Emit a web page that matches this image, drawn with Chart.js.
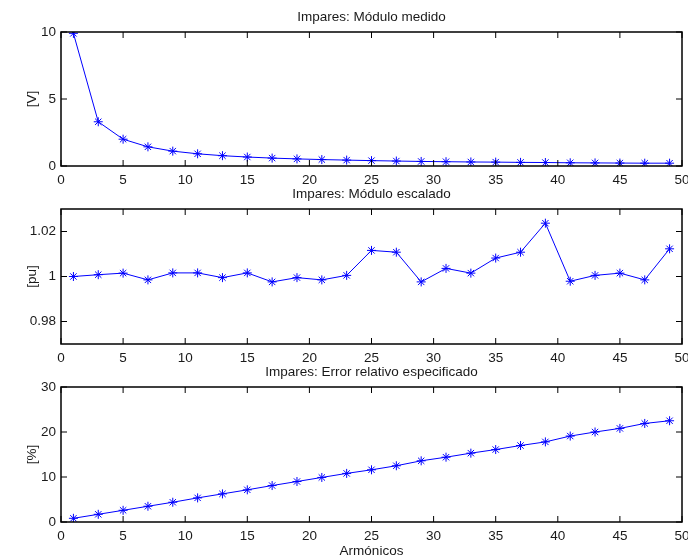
<!DOCTYPE html>
<html>
<head>
<meta charset="utf-8">
<script src="https://cdn.jsdelivr.net/npm/chart.js@4"></script>
<style>
  body { margin: 0; background: #fff; width: 688px; height: 556px; position: relative; overflow: hidden; }
  canvas { position: absolute; left: 0; }
</style>
</head>
<body>
<canvas id="c1" width="688" height="190" style="top:0px"></canvas>
<canvas id="c2" width="688" height="195" style="top:175px"></canvas>
<canvas id="c3" width="688" height="201" style="top:355px"></canvas>
<script>
// armónicos impares
var harmonics = [1, 3, 5, 7, 9, 11, 13, 15, 17, 19, 21, 23, 25, 27, 29, 31, 33, 35, 37, 39, 41, 43, 45, 47, 49];

// módulo medido [V]
var moduloMedido = [9.9, 3.3, 2.0, 1.43, 1.11, 0.91, 0.77, 0.67, 0.59, 0.53, 0.48, 0.44, 0.40,
                    0.37, 0.34, 0.32, 0.30, 0.29, 0.27, 0.26, 0.24, 0.23, 0.22, 0.21, 0.21];

// módulo escalado [pu]
var moduloEscalado = [1.000, 1.0008, 1.0015, 0.9985, 1.0016, 1.0016, 0.9995, 1.0016, 0.9976, 0.9995,
                      0.9985, 1.0005, 1.0116, 1.0108, 0.9976, 1.0036, 1.0015, 1.0082, 1.0108, 1.0237,
                      0.9979, 1.0005, 1.0015, 0.9985, 1.0123];

// error relativo especificado [%]
var errorRelativo = [0.82, 1.71, 2.6, 3.5, 4.39, 5.36, 6.25, 7.15, 8.1, 9.0, 9.9, 10.8, 11.6,
                     12.5, 13.6, 14.4, 15.3, 16.1, 17.0, 17.8, 19.1, 20.0, 20.8, 21.9, 22.5];

var xTicks = [0, 5, 10, 15, 20, 25, 30, 35, 40, 45, 50];
var yTicks1 = [0, 5, 10];
var yTicks2 = [0.98, 1, 1.02];
var yTicks3 = [0, 10, 20, 30];

var FONT = "'Liberation Sans', Arial, sans-serif";
var TXT = '#1a1a1a';

// caja negra, marcas hacia dentro y título (estilo matlab)
var frame = {
  id: 'frame',
  afterDraw: function(chart, args, opts){
    var a = chart.chartArea, ctx = chart.ctx;
    var xs = chart.scales.x, ys = chart.scales.y;
    ctx.save();
    ctx.strokeStyle = '#000';
    ctx.lineWidth = 1;
    ctx.beginPath();
    xs.ticks.forEach(function(t){
      var px = xs.getPixelForValue(t.value);
      ctx.moveTo(px, a.bottom); ctx.lineTo(px, a.bottom - 6);
      ctx.moveTo(px, a.top); ctx.lineTo(px, a.top + 6);
    });
    ys.ticks.forEach(function(t){
      var py = ys.getPixelForValue(t.value);
      ctx.moveTo(a.left, py); ctx.lineTo(a.left + 6, py);
      ctx.moveTo(a.right, py); ctx.lineTo(a.right - 6, py);
    });
    ctx.stroke();
    ctx.lineWidth = 1.5;
    ctx.strokeRect(a.left, a.top, a.right - a.left, a.bottom - a.top);
    ctx.fillStyle = TXT;
    ctx.font = '13.5px ' + FONT;
    ctx.textAlign = 'center';
    ctx.textBaseline = 'alphabetic';
    ctx.fillText(opts.title, (a.left + a.right) / 2, a.top - 11);
    ctx.restore();
  }
};

function makeChart(id, values, yMin, yMax, yTicks, yLabel, title, xLabel, padTop, xHeight){
  var pts = harmonics.map(function(h, i){ return {x: h, y: values[i]}; });
  return new Chart(document.getElementById(id), {
    type: 'line',
    data: {
      datasets: [{
        data: pts,
        borderColor: '#0000ff',
        backgroundColor: '#0000ff',
        borderWidth: 1,
        tension: 0,
        pointStyle: 'star',
        pointRadius: 4.5,
        pointBorderWidth: 1,
        pointBorderColor: '#0000ff',
        fill: false
      }]
    },
    options: {
      responsive: false,
      animation: false,
      events: [],
      layout: { padding: { top: padTop, right: 6, left: 0, bottom: 0 } },
      plugins: {
        legend: { display: false },
        tooltip: { enabled: false },
        frame: { title: title }
      },
      scales: {
        x: {
          type: 'linear',
          min: 0, max: 50,
          grid: { display: false, drawTicks: false },
          border: { display: false },
          afterBuildTicks: function(s){ s.ticks = xTicks.map(function(v){ return {value: v}; }); },
          afterFit: function(s){ s.height = xHeight; s.paddingLeft = 0; s.paddingRight = 0; },
          ticks: { padding: 6, color: TXT, font: { family: FONT, size: 13.5 }, maxRotation: 0, autoSkip: false },
          title: {
            display: !!xLabel, text: xLabel || '', color: TXT,
            font: { family: FONT, size: 13.5 }, padding: { bottom: -3 }
          }
        },
        y: {
          min: yMin, max: yMax,
          grid: { display: false, drawTicks: false },
          border: { display: false },
          afterBuildTicks: function(s){ s.ticks = yTicks.map(function(v){ return {value: v}; }); },
          afterFit: function(s){ s.width = 61; s.paddingTop = 0; s.paddingBottom = 0; },
          ticks: {
            padding: 5, color: TXT, font: { family: FONT, size: 13.5 },
            callback: function(v){ return String(v); }
          },
          title: {
            display: true, text: yLabel, color: TXT,
            font: { family: FONT, size: 13.5 }, padding: { top: 24 }
          }
        }
      }
    },
    plugins: [frame]
  });
}

makeChart('c1', moduloMedido, 0, 10, yTicks1, '[V]', 'Impares: Módulo medido', null, 32, 24);
makeChart('c2', moduloEscalado, 0.97, 1.03, yTicks2, '[pu]', 'Impares: Módulo escalado', null, 34, 26);
makeChart('c3', errorRelativo, 0, 30, yTicks3, '[%]', 'Impares: Error relativo especificado', 'Armónicos', 32, 34);
</script>
</body>
</html>
